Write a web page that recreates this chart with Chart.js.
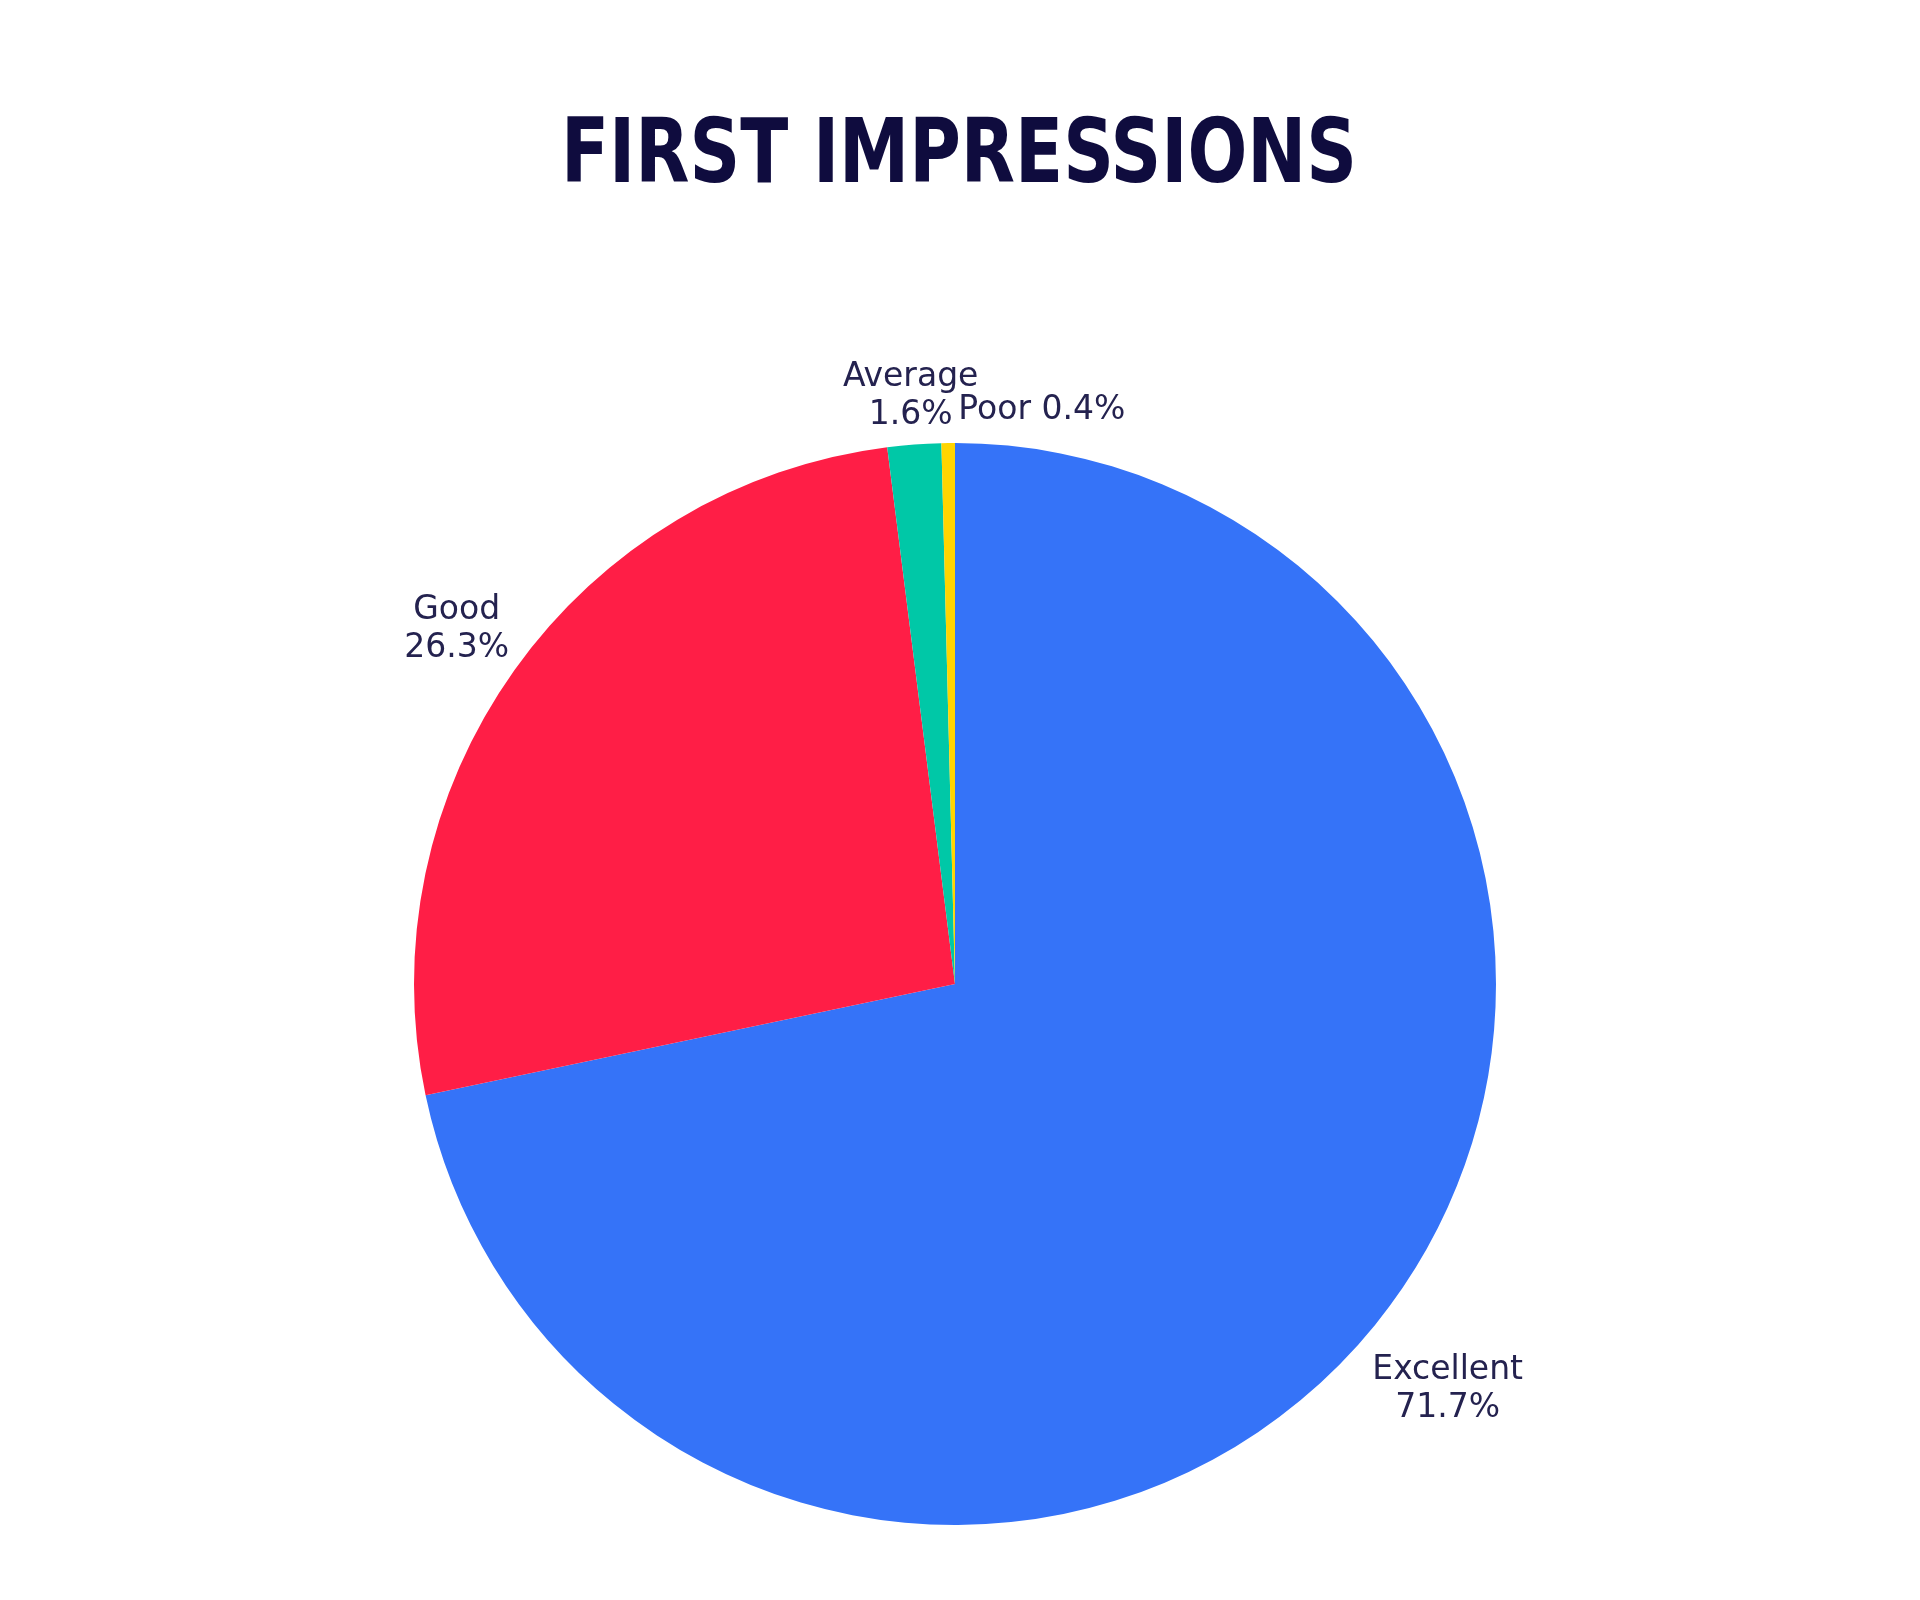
<!DOCTYPE html>
<html>
<head>
<meta charset="utf-8">
<title>First Impressions</title>
<script src="https://cdn.jsdelivr.net/npm/chart.js@4.4.1/dist/chart.umd.min.js"></script>
<style>
    html, body { margin: 0; padding: 0; background: #ffffff; }
    #wrap { width: 1920px; height: 1600px; }
</style>
</head>
<body>
<div id="wrap"><canvas id="pieChart" width="1920" height="1600"></canvas></div>
<script>
const chartTitle = 'FIRST IMPRESSIONS';
const categories = ['Excellent', 'Good', 'Average', 'Poor'];
const shares = [71.7, 26.3, 1.6, 0.4];
const sliceColors = ['#3573f8', '#ff1e46', '#00c8a7', '#ffd500'];

// label placement: extra gap outside the rim, single-line flag and a sideways nudge
const labelGap = [20, 6, 5, 13];
const labelOneLine = [false, false, false, true];
const labelNudgeX = [-7, 0, 0, 94];

const labelFont = '33px "DejaVu Sans", sans-serif';
const labelColor = '#24224f';
const labelLineHeight = 38;

// title is drawn by hand so it can be squeezed like the narrow display face
const squeezedTitle = {
    id: 'squeezedTitle',
    afterDraw(chart) {
        const ctx = chart.ctx;
        ctx.save();
        ctx.font = 'bold 89px "DejaVu Sans Condensed", "DejaVu Sans", sans-serif';
        ctx.fillStyle = '#0f0c3e';
        ctx.textAlign = 'center';
        ctx.textBaseline = 'alphabetic';
        ctx.translate(959, 182);
        ctx.scale(0.88, 1);
        ctx.fillText(chartTitle, 0, 0);
        ctx.restore();
    }
};

const outsideLabels = {
    id: 'outsideLabels',
    afterDatasetsDraw(chart) {
        const ctx = chart.ctx;
        const meta = chart.getDatasetMeta(0);
        ctx.save();
        ctx.font = labelFont;
        ctx.fillStyle = labelColor;
        ctx.textAlign = 'center';
        ctx.textBaseline = 'middle';
        meta.data.forEach((arc, i) => {
            const p = arc.getProps(['x', 'y', 'startAngle', 'endAngle', 'outerRadius'], true);
            const mid = (p.startAngle + p.endAngle) / 2;
            const dx = Math.cos(mid), dy = Math.sin(mid);
            const value = chart.data.datasets[0].data[i].toFixed(1) + '%';
            const lines = labelOneLine[i] ? [chart.data.labels[i] + ' ' + value] : [chart.data.labels[i], value];
            const halfW = Math.max(...lines.map(l => ctx.measureText(l).width)) / 2;
            const halfH = lines.length * labelLineHeight / 2;
            const dist = p.outerRadius + labelGap[i] + Math.abs(dx) * halfW + Math.abs(dy) * halfH;
            const cx = p.x + dx * dist + labelNudgeX[i];
            const cy = p.y + dy * dist;
            lines.forEach((l, k) => {
                ctx.fillText(l, cx, cy - halfH + labelLineHeight * (k + 0.5));
            });
        });
        ctx.restore();
    }
};

const pieChart = new Chart(document.getElementById('pieChart').getContext('2d'), {
    type: 'pie',
    data: {
        labels: categories,
        datasets: [{
            data: shares,
            backgroundColor: sliceColors,
            borderWidth: 0
        }]
    },
    options: {
        responsive: false,
        animation: false,
        devicePixelRatio: 1,
        layout: {
            padding: { top: 443, bottom: 75, left: 0, right: 10 }
        },
        plugins: {
            legend: { display: false },
            tooltip: { enabled: false },
            title: { display: false }
        }
    },
    plugins: [outsideLabels, squeezedTitle]
});
</script>
</body>
</html>
